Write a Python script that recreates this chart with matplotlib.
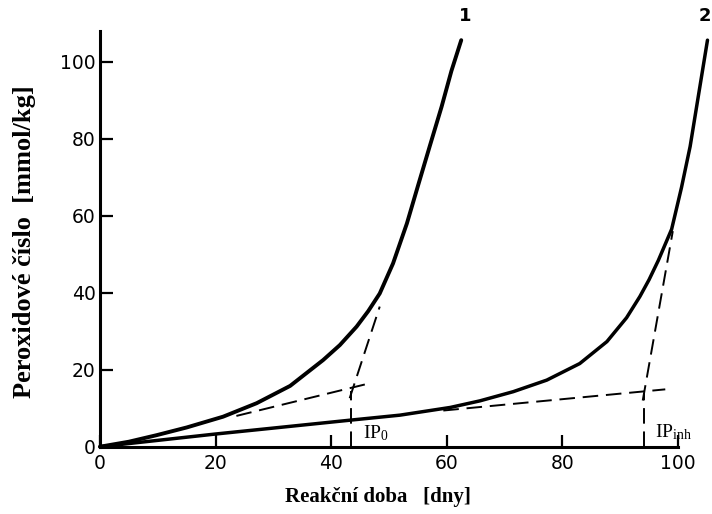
import matplotlib
matplotlib.use("Agg")
import matplotlib.pyplot as plt

plt.rcParams["mathtext.fontset"] = "custom"
plt.rcParams["mathtext.rm"] = "Liberation Serif"
plt.rcParams["mathtext.it"] = "Liberation Serif:italic"

# Curve 1 (without inhibitor)
curve1_x = [0, 5, 9.8, 15, 21.3, 27.1, 32.9, 38.6, 41.5, 44.4, 46.4, 48.4, 50.7, 53.1, 55.1, 57.1, 59.1, 60.8, 62.5]
curve1_y = [0, 1.3, 3.0, 5.0, 7.8, 11.3, 15.8, 22.5, 26.4, 31.2, 35.2, 39.8, 47.6, 58.0, 68.2, 78.3, 88.3, 97.6, 105.6]

# Curve 2 (with inhibitor)
curve2_x = [0, 20, 43.3, 51.9, 60.6, 65.7, 71.5, 77.3, 83.0, 87.7, 91.1, 93.4, 95.0, 96.6, 98.9, 100.6, 102.1, 103.5, 105.1]
curve2_y = [0, 3.3, 6.9, 8.2, 10.2, 11.9, 14.3, 17.3, 21.6, 27.3, 33.5, 39.0, 43.4, 48.4, 56.5, 67.3, 78.0, 90.9, 105.6]

# Tangent (construction) lines
tan1_shallow_x = [23.6, 47.0]
tan1_shallow_y = [8.0, 16.6]
tan1_steep_x = [43.2, 48.4]
tan1_steep_y = [12.6, 36.4]
ip0_x = [43.5, 43.5]
ip0_y = [0, 14.5]

tan2_shallow_x = [59.4, 97.8]
tan2_shallow_y = [9.4, 14.9]
tan2_steep_x = [93.9, 99.1]
tan2_steep_y = [12.0, 56.0]
ipinh_x = [94.1, 94.1]
ipinh_y = [0, 14.0]

x_ticks = [0, 20, 40, 60, 80, 100]
y_ticks = [0, 20, 40, 60, 80, 100]

fig = plt.figure(figsize=(7.12, 5.14), dpi=100)
ax = fig.add_axes([0.1404, 0.1309, 0.8565, 0.8389])
ax.set_xlim(0, 105.5)
ax.set_ylim(0, 112)

ax.plot(curve1_x, curve1_y, color="black", lw=2.8, solid_capstyle="round",
        solid_joinstyle="round", clip_on=False)
ax.plot(curve2_x, curve2_y, color="black", lw=2.5, solid_capstyle="round",
        solid_joinstyle="round", clip_on=False)

dash = (0, (8, 4))
for xs, ys in [(tan1_shallow_x, tan1_shallow_y), (tan1_steep_x, tan1_steep_y), (ip0_x, ip0_y),
               (tan2_shallow_x, tan2_shallow_y), (tan2_steep_x, tan2_steep_y), (ipinh_x, ipinh_y)]:
    ax.plot(xs, ys, color="black", lw=1.4, linestyle=dash)

ax.text(63.1, 109.5, "1", fontsize=13, fontweight="bold", ha="center", va="bottom")
ax.text(104.7, 109.5, "2", fontsize=13, fontweight="bold", ha="center", va="bottom", clip_on=False)

ax.text(45.5, 2.3, r"IP$_\mathrm{0}$", fontsize=14, family="Liberation Serif", ha="left", va="baseline")
ax.text(96.0, 2.5, r"IP$_{\mathrm{inh}}$", fontsize=14, family="Liberation Serif", ha="left", va="baseline")

for s in ["top", "right"]:
    ax.spines[s].set_visible(False)
ax.spines["left"].set_bounds(0, 108)
ax.spines["bottom"].set_bounds(0, 100)
ax.spines["left"].set_linewidth(2.2)
ax.spines["bottom"].set_linewidth(2.2)

ax.set_xticks(x_ticks)
ax.set_yticks(y_ticks)
ax.set_xticklabels([str(t) for t in x_ticks])
ax.set_yticklabels([str(t) for t in y_ticks])
ax.tick_params(axis="both", direction="in", length=9, width=1.6, labelsize=13.5)
ax.tick_params(axis="x", pad=5)
ax.tick_params(axis="y", pad=3)

fig.text(0.035, 0.53, "Peroxidové číslo  [mmol/kg]", rotation=90, fontsize=19,
         fontweight="bold", family="Liberation Serif", ha="center", va="center")
fig.text(0.531, 0.033, "Reakční doba   [dny]", fontsize=15, fontweight="bold",
         family="Liberation Serif", ha="center", va="center")

fig.savefig("out.png", dpi=100)
